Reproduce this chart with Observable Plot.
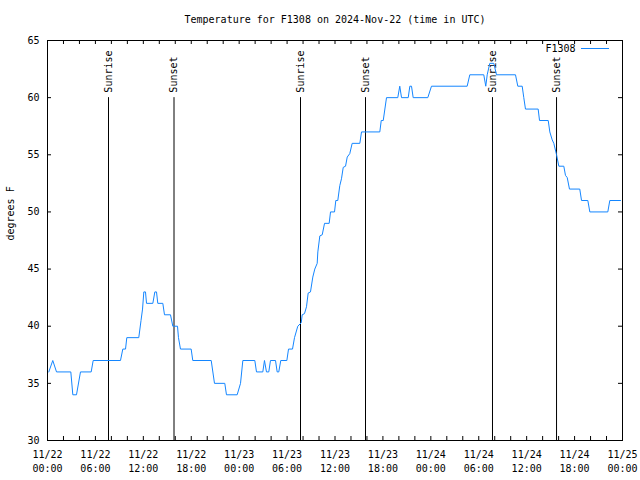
<!DOCTYPE html>
<html><head><meta charset="utf-8">
<script src="https://cdn.jsdelivr.net/npm/d3@7"></script>
<script src="https://cdn.jsdelivr.net/npm/@observablehq/plot@0.6"></script>
<style>body{margin:0;background:#fff}</style>
</head><body><div id="chart"></div>
<script>
// Hours since 2024-11-22 00:00 UTC and temperature (F)
const hours = [0.16,0.66,1.13,2.92,3.17,3.63,4.13,5.47,5.72,9.14,9.43,9.77,9.93,11.43,11.71,11.90,12.06,12.27,12.40,13.19,13.44,13.65,13.81,14.44,14.65,15.40,15.69,16.28,16.40,16.65,17.99,18.19,20.50,20.91,22.20,22.41,23.75,24.17,24.46,25.96,26.17,26.96,27.17,27.42,27.71,27.92,28.55,28.76,28.96,29.21,29.97,30.18,30.68,30.93,31.34,31.77,31.89,32.18,32.43,32.64,32.93,33.22,33.47,33.77,33.85,34.10,34.40,34.69,35.27,35.44,35.94,36.10,36.35,36.60,36.81,37.03,37.32,37.53,37.85,38.15,39.11,39.32,41.61,41.79,42.04,42.45,43.86,44.11,44.33,45.17,45.37,45.58,45.79,47.62,48.08,52.55,52.88,54.63,54.88,55.06,55.38,55.89,56.22,58.60,58.89,59.44,59.64,59.85,61.44,61.61,62.70,62.90,63.20,63.40,63.74,64.03,64.65,64.86,65.08,65.36,66.65,66.87,67.66,67.91,70.16,70.41,71.75];
const temps = [36,37,36,36,34,34,36,36,37,37,38,38,39,39,40.5,41.5,43,43,42,42,43,43,42,42,41,41,40,40,39,38,38,37,37,35,35,34,34,35,37,37,36,36,37,36,36,37,37,36,36,37,37,38,38,39,40,40.3,41,41.1,41.7,42.9,43,44.3,45,45.5,46.5,47.9,48,49,49,50,50,51,51,52.3,52.9,53.9,54,54.8,55.1,56,56,57,57,58,58,60,60,61,60,60,61,61,60,60,61,61,62,62,61,62,63,63,62,62,61,61,60,59,59,58,58,57,56.3,56,55,54,54,53.2,53,52,52,51,51,50,50,51,51];
const eventHours = [7.64,15.84,31.68,39.82,55.72,63.74];
const eventLabels = ["Sunrise","Sunset","Sunrise","Sunset","Sunrise","Sunset"];
const yTicks = [30,35,40,45,50,55,60,65];
const yDomain = [30,65];
const eventLineTop = 60;
const seriesName = "F1308";
const titleText = "Temperature for F1308 on 2024-Nov-22 (time in UTC)";
const yLabel = "degrees F";
const start = Date.UTC(2024,10,22);
const end = Date.UTC(2024,10,25);

const toDate = h => new Date(start + h*3600e3);
const data = hours.map((h,i)=>({time: toDate(h), temp: temps[i]}));
const events = eventHours.map((h,i)=>({time: toDate(h), label: eventLabels[i]}));
const ticks2h = d3.utcHour.every(2).range(new Date(start), new Date(end+1));
const ticks6h = d3.utcHour.every(6).range(new Date(start), new Date(end+1));
const fmt = d3.utcFormat("%m/%d\n%H:%M");
const lineColor = "#1486ff";

const W=640,H=480,mL=47,mR=18,mT=40,mB=40;
const innerW = W-mL-mR, innerH = H-mT-mB;

const legendKey = (index, scales, values, dims) => {
  const ns = "http://www.w3.org/2000/svg";
  const l = document.createElementNS(ns, "line");
  const xr = dims.width - dims.marginRight - 13;
  l.setAttribute("x1", xr - 28); l.setAttribute("x2", xr);
  l.setAttribute("y1", dims.marginTop + 8.5); l.setAttribute("y2", dims.marginTop + 8.5);
  l.setAttribute("stroke", lineColor); l.setAttribute("stroke-width", 1);
  return l;
};

const chart = Plot.plot({
  width: W, height: H, marginLeft: mL, marginRight: mR, marginTop: mT, marginBottom: mB,
  style: {fontFamily: "'DejaVu Sans Mono', monospace", fontSize: "10px", background: "white", color: "black"},
  x: {type: "utc", domain: [new Date(start), new Date(end)], label: null},
  y: {domain: yDomain, label: null},
  marks: [
    Plot.ruleX(events, {x: "time", y1: yDomain[0], y2: eventLineTop, stroke: "black", strokeWidth: 1}),
    Plot.text(events, {x: "time", y: eventLineTop, text: "label", rotate: -90, textAnchor: "start", dy: -5, fill: "black"}),
    Plot.line(data, {x: "time", y: "temp", stroke: lineColor, strokeWidth: 1}),
    Plot.tickX(ticks2h, {x: d=>d, insetTop: innerH-4, stroke: "black"}),
    Plot.tickX(ticks2h, {x: d=>d, insetBottom: innerH-4, stroke: "black"}),
    Plot.tickY(yTicks, {y: d=>d, insetRight: innerW-4, stroke: "black"}),
    Plot.tickY(yTicks, {y: d=>d, insetLeft: innerW-4, stroke: "black"}),
    Plot.frame({stroke: "black"}),
    Plot.axisX(ticks6h, {tickSize: 0, tickPadding: 8, tickFormat: fmt, lineHeight: 1.4, label: null}),
    Plot.axisY(yTicks, {tickSize: 0, tickPadding: 8, label: null}),
    Plot.text([titleText], {frameAnchor: "top", lineAnchor: "middle", dy: -21, text: d=>d, fill: "black"}),
    Plot.text([yLabel], {frameAnchor: "left", rotate: -90, dx: -37, text: d=>d, fill: "black"}),
    Plot.text([seriesName], {frameAnchor: "top-right", lineAnchor: "middle", dx: -47, dy: 8.5, textAnchor: "end", text: d=>d, fill: "black"}),
    legendKey
  ]
});
document.getElementById("chart").appendChild(chart);
</script>
</body></html>
